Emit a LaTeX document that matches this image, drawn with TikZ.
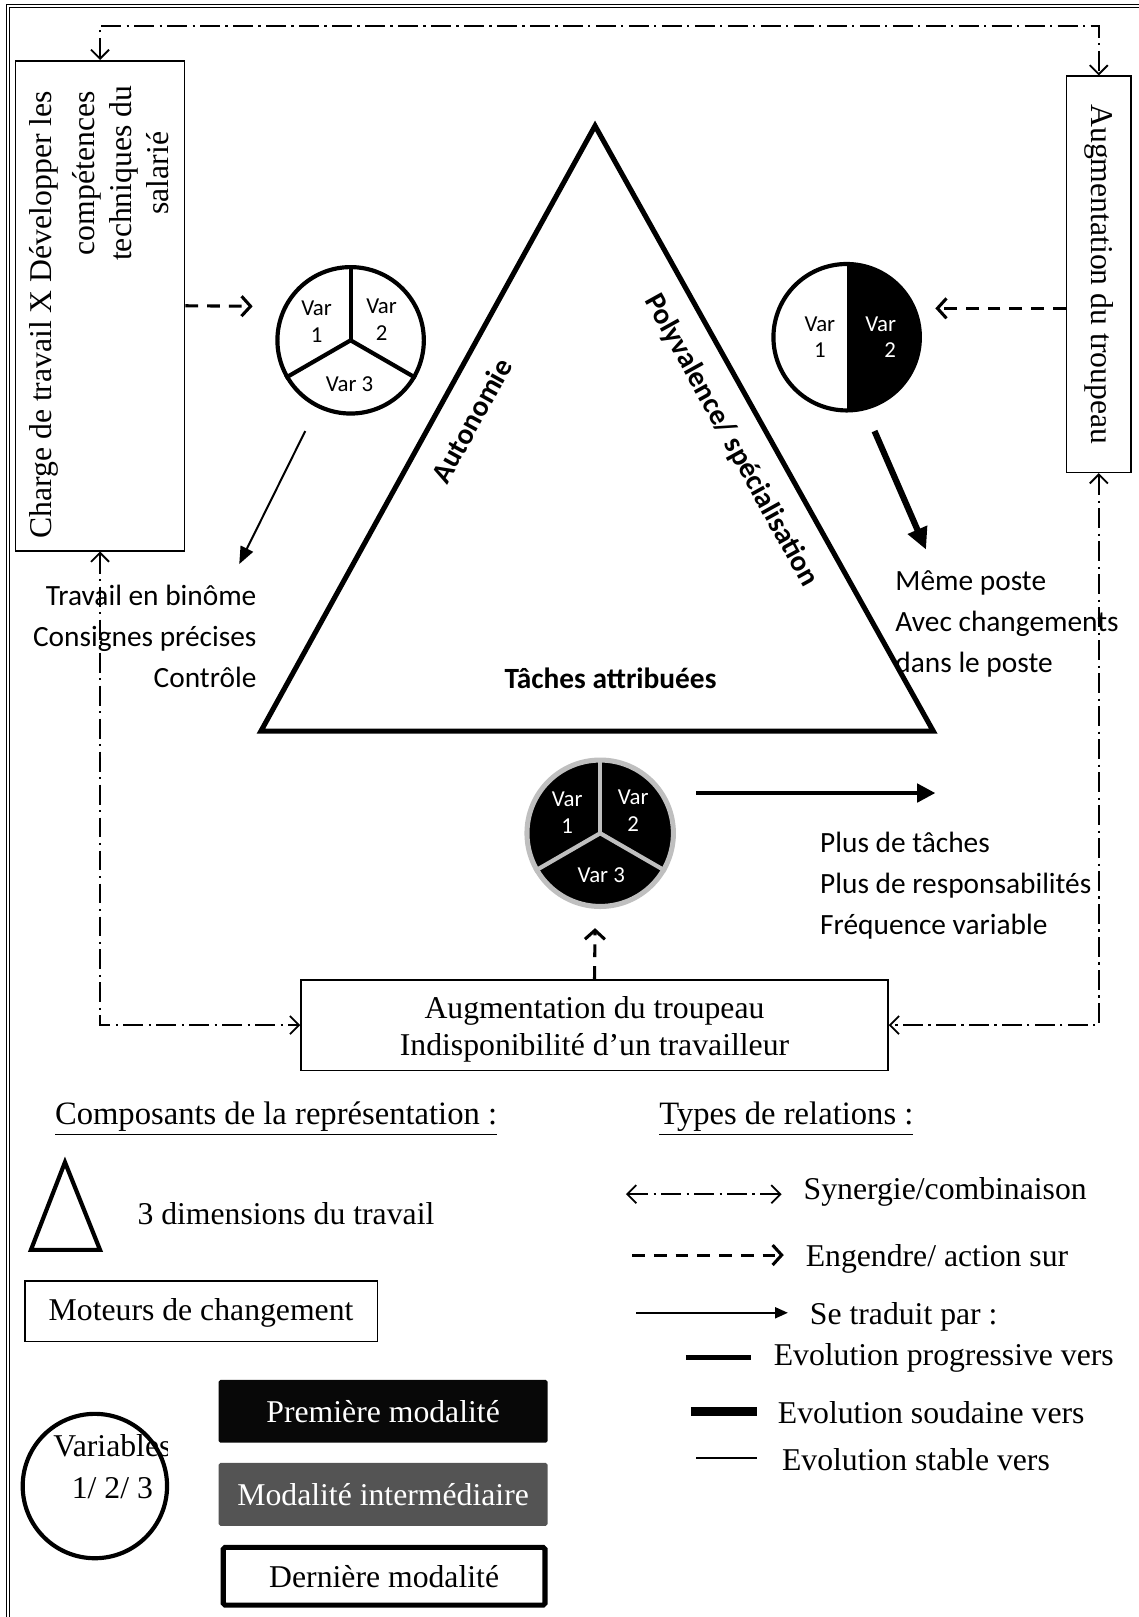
\documentclass[tikz,border=0pt]{standalone}
\usepackage{fontspec}
\setmainfont{Liberation Serif}
\newfontfamily\calib{Carlito}
\usetikzlibrary{arrows.meta, positioning, calc}

\begin{document}
\begin{tikzpicture}[
    x=0.2mm, y=-0.2mm,
    box/.style={draw, line width=0.9pt, inner sep=0pt},
    ser/.style={font=\fontsize{17.5}{20.4}\selectfont, inner sep=0pt},
    head/.style={font=\fontsize{18}{20.4}\selectfont, inner sep=0pt, anchor=west},
    sans/.style={font=\calib\fontsize{16.2}{22.7}\selectfont, inner sep=0pt},
    bsans/.style={font=\calib\bfseries\fontsize{16.2}{22.7}\selectfont, inner sep=0pt},
    var/.style={font=\calib\fontsize{12.6}{14.7}\selectfont, align=center, inner sep=0pt},
    rond/.style={circle, draw, line width=2.3pt, minimum size=142*0.2mm, inner sep=0pt},
    mod/.style={ser, rounded corners=1pt, minimum width=319*0.2mm, minimum height=61*0.2mm},
    syn/.style={line width=0.8pt, dash pattern=on 11pt off 3pt on 1.2pt off 3pt,
        {Straight Barb[length=5pt,width=10pt,line width=1pt]}-{Straight Barb[length=5pt,width=10pt,line width=1pt]}},
    eng/.style={line width=1.7pt, dash pattern=on 7pt off 5pt, -{Straight Barb[length=5pt,width=11pt]}},
    stable/.style={line width=1.1pt, -{Triangle[length=9.5pt,width=7.5pt]}},
    progr/.style={line width=2.3pt, -{Triangle[length=10pt,width=10pt]}},
    soud/.style={line width=3.4pt, -{Triangle[length=12pt,width=11pt]}},
]
\useasboundingbox (0,0) rectangle (1104,1568);
% frame
\draw[line width=0.6pt] (6,1568) -- (6,4) -- (1104,4);
\draw[line width=0.6pt] (9,1568) -- (9,7) -- (1104,7);
% === change drivers ===
\node[box, minimum width=164*0.2mm, minimum height=475*0.2mm] (charge) at (97,296.5) {};
\node[ser, rotate=90, anchor=east] (chl1) at (43,88) {Charge de travail X Développer les};
\node[ser, rotate=90, align=center] (chl2) at (117,168) {compétences\\techniques du\\salarié};
%
\node[box, minimum width=63*0.2mm, minimum height=384*0.2mm] (aug) at (1065.5,266) {};
\node[ser, rotate=-90] (augt) at (aug.center) {Augmentation du troupeau};
%
\node[box, minimum width=569*0.2mm, minimum height=88*0.2mm] (bottom) at (576.5,994) {};
\node[ser, align=center] (bottomt) at (576.5,998) {Augmentation du troupeau\\Indisponibilité d’un travailleur};
% === triangle ===
\draw[line width=2.8pt] (253,709) -- (577,122) -- (905,709) -- cycle;
\node[bsans, rotate=61] (auto) at (457,408) {Autonomie};
\node[bsans, rotate=-61] (poly) at (709,427) {Polyvalence/ spécialisation};
\node[bsans] (taches) at (592,658) {Tâches attribuées};
% === variables ===
\node[rond] (c1) at (340,330) {};
\foreach \a in {90,210,330} {
    \draw[line width=2.3pt] (c1.center) -- (c1.\a);
}
\node[var] (c1v1) at (307,312) {Var\\1};
\node[var] (c1v2) at (370,310) {Var\\2};
\node[var] (c1v3) at (339,373) {Var 3};
%
\node[rond, path picture={\fill[black] (path picture bounding box.north) rectangle (path picture bounding box.south east);}] (c2) at (821,327) {};
\node[var] (c2v1) at (795,327) {Var\\1};
\node[var, align=right, text=white] (c2v2) at (854,327) {Var\\2};
%
\node[rond, fill=black, draw=black!25, line width=2.8pt] (c3) at (582,808) {};
\foreach \a in {90,210,330} {
    \draw[black!25, line width=2.3pt] (c3.center) -- (c3.\a);
}
\node[var, text=white] (c3v1) at (550,788) {Var\\1};
\node[var, text=white] (c3v2) at (614,786) {Var\\2};
\node[var, text=white] (c3v3) at (583,849) {Var 3};
% === relations ===
\draw[syn] (charge.north) -- ++(0,-33) -| (aug.north);
\draw[syn] (charge.south) |- (bottom.west);
\draw[syn] (aug.south) |- (bottom.east);
%
\coordinate (c1in) at (245,297);
\coordinate (c2in) at (907,299);
\coordinate (c3in) at (577,900);
\draw[eng] (charge.east) -- (c1in);
\draw[eng] (c2in -| aug.west) -- (c2in);
\draw[eng] (bottom.north) -- (c3in);
%
\coordinate (c1a) at (296,418);
\coordinate (c1b) at (232,547);
\coordinate (c2a) at (848,418);
\coordinate (c2b) at (898,533);
\coordinate (c3a) at (675,769);
\coordinate (c3b) at (907,769);
\draw[stable] (c1a) -- (c1b);
\draw[soud] (c2a) -- (c2b);
\draw[progr] (c3a) -- (c3b);
%
\node[sans, align=right, anchor=east] (res1) at (249,617) {Travail en binôme\\Consignes précises\\Contrôle};
\node[sans, align=left, anchor=west] (res2) at (868,605) {Même poste\\Avec changements\\dans le poste};
\node[sans, align=left, anchor=west] (res3) at (795,859) {Plus de tâches\\Plus de responsabilités\\Fréquence variable};
% === legend: components ===
\node[head] (lcomp) at (53,1085) {\underline{Composants de la représentation :}};
\draw[line width=2.3pt] (30,1212) -- (63,1127) -- (97,1212) -- cycle;
\node[ser, anchor=west] (ltri) at (133,1177) {3 dimensions du travail};
\node[box, minimum width=342*0.2mm, minimum height=59*0.2mm] (lmot) at (195,1271.5) {};
\node[ser] (lmott) at (195,1273) {Moteurs de changement};
\node[rond, minimum size=140*0.2mm] (lvar) at (92,1441) {};
\begin{scope}
    \clip (20,1360) rectangle (162,1520);
    \node[ser, align=center, font=\fontsize{17.5}{23.2}\selectfont] (lvart) at (109,1422) {Variables\\1/ 2/ 3};
\end{scope}
\node[mod, fill=black!97, text=white] (lprem) at (371.5,1368.5) {Première modalité};
\node[mod, fill=black!67, text=white] (linter) at (371.5,1449) {Modalité intermédiaire};
\node[mod, draw, line width=2.8pt, minimum width=312*0.2mm, minimum height=56*0.2mm] (lder) at (372.5,1528.5) {Dernière modalité};
% === legend: relations ===
\node[head] (ltypes) at (639,1085) {\underline{Types de relations :}};
\draw[syn] (607,1158) -- (758,1158);
\node[ser, anchor=west] (lsyn) at (779,1156) {Synergie/combinaison};
\draw[eng] (613,1217) -- (760,1217);
\node[ser, anchor=west] (leng) at (781,1221) {Engendre/ action sur};
\draw[line width=1.1pt, -{Triangle[length=7pt,width=6pt]}] (617,1273) -- (764,1273);
\node[ser, anchor=west] (ltrad) at (785,1277) {Se traduit par :};
\draw[line width=2.8pt] (665,1316) -- (728,1316);
\node[ser, anchor=west] (lprog) at (750,1317) {Evolution progressive vers};
\draw[line width=5pt] (670,1369) -- (734,1369);
\node[ser, anchor=west] (lsoud) at (754,1370) {Evolution soudaine vers};
\draw[line width=1.1pt] (675,1414) -- (734,1414);
\node[ser, anchor=west] (lstab) at (758,1415) {Evolution stable vers};
\end{tikzpicture}
\end{document}
